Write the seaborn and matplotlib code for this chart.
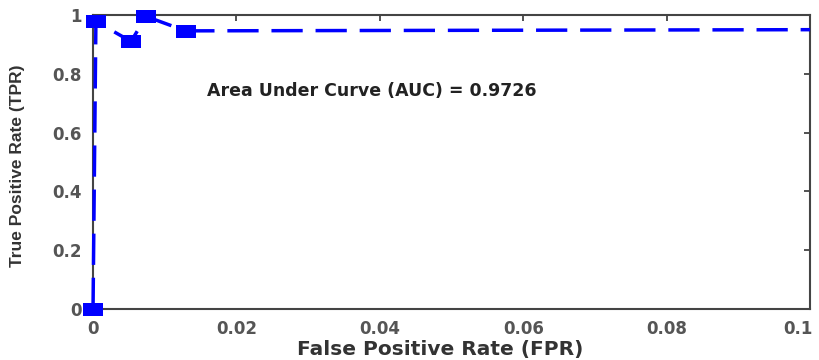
import numpy as np
import pandas as pd
import seaborn as sns
import matplotlib.pyplot as plt
from matplotlib.transforms import ScaledTranslation

# ROC points
fpr = [0.0, 0.0004, 0.0053, 0.0074, 0.0129, 0.1]
tpr = [0.0, 0.978, 0.910, 0.995, 0.946, 0.95]
has_marker = [True, True, True, True, True, False]
auc = 0.9726

x_ticks = [0, 0.02, 0.04, 0.06, 0.08, 0.1]
x_labels = ["0", "0.02", "0.04", "0.06", "0.08", "0.1"]
y_ticks = [0, 0.2, 0.4, 0.6, 0.8, 1]
y_labels = ["0", "0.2", "0.4", "0.6", "0.8", "1"]

sns.set_style("white")
plt.rcParams['font.family'] = ['DejaVu Sans']

df = pd.DataFrame({"FPR": fpr, "TPR": tpr})

fig = plt.figure(figsize=(8.19, 3.6), dpi=100)
ax = fig.add_axes([0.1136, 0.1417, 0.8755, 0.8167])

sns.lineplot(data=df, x="FPR", y="TPR", estimator=None, sort=False, ax=ax,
             color="#0000ff", linewidth=2.5, linestyle=(0, (9, 3.7)),
             clip_on=False, zorder=4)

# flattened square markers (the source image is squashed vertically)
rect = [(-1, -0.65), (1, -0.65), (1, 0.65), (-1, 0.65), (-1, -0.65)]
mk = df[has_marker]
ax.plot(mk["FPR"], mk["TPR"], linestyle="none", marker=rect, markersize=14.4,
        color="#0000ff", markeredgewidth=0, clip_on=False, zorder=5)

ax.set_xlim(0, 0.1)
ax.set_ylim(0, 1)
ax.set_xticks(x_ticks)
ax.set_xticklabels(x_labels)
ax.set_yticks(y_ticks)
ax.set_yticklabels(y_labels)
ax.tick_params(direction="in", length=4, width=1.2, colors="#333333",
               top=True, right=True, labelcolor="#555555", pad=8)
for lab in ax.get_xticklabels() + ax.get_yticklabels():
    lab.set_fontsize(12)
    lab.set_fontweight("bold")
# keep the last x label inside the canvas (it sits on the right edge)
last = ax.get_xticklabels()[-1]
last.set_transform(last.get_transform() + ScaledTranslation(-9 / 72, 0, fig.dpi_scale_trans))

for s in ax.spines.values():
    s.set_visible(True)
    s.set_color("#444444")
    s.set_linewidth(1.5)
    s.set_zorder(3)

ax.set_xlabel("False Positive Rate (FPR)", fontsize=14.5, fontweight="bold",
              color="#333333")
ax.xaxis.set_label_coords(0.484, -0.105)
ax.set_ylabel("True Positive Rate (TPR)", fontsize=12.5, family="Liberation Sans",
              fontweight="bold", color="#333333")
ax.yaxis.set_label_coords(-0.095, 0.486)

ax.text(0.0159, 0.742, f"Area Under Curve (AUC) = {auc}", fontsize=12.5,
        fontweight="bold", va="center", color="#222222")

fig.savefig("out.png", dpi=100)
